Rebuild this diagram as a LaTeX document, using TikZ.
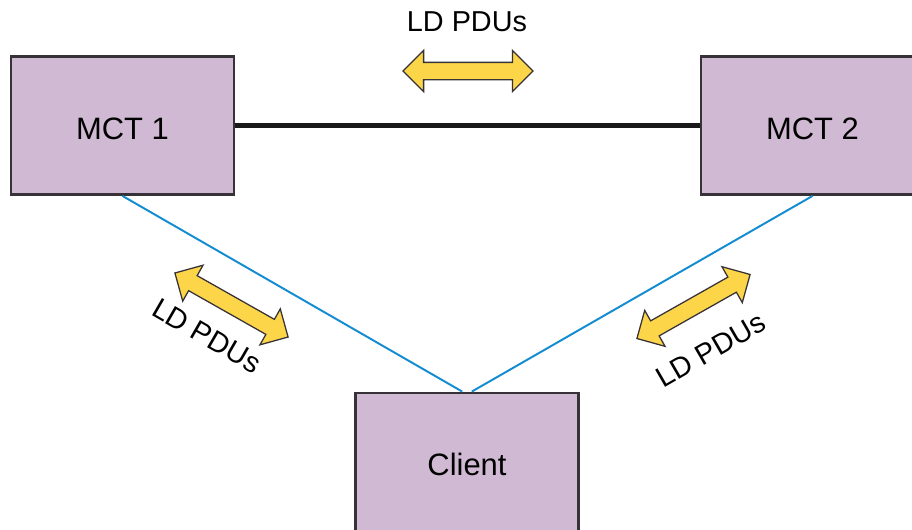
\documentclass[tikz,border=0pt]{standalone}
\usepackage{fontspec}
\setmainfont{Liberation Sans}
\usepackage{tikz}
\usetikzlibrary{positioning,shapes.arrows}

\definecolor{boxfill}{RGB}{208,185,211}
\definecolor{boxline}{RGB}{55,50,55}
\definecolor{linkblue}{RGB}{20,140,210}
\definecolor{pduyellow}{RGB}{252,214,72}

\tikzset{
  device/.style={draw=boxline, line width=2pt, fill=boxfill,
    minimum width=5.575cm, minimum height=3.45cm, inner sep=0pt,
    text height=0.7cm, font=\fontsize{22}{26}\selectfont},
  pdu/.style={double arrow, draw=boxline, line width=0.9pt, fill=pduyellow,
    minimum height=3.25cm, inner xsep=0pt, inner ysep=0.2cm,
    double arrow head extend=0.3cm},
  pdulabel/.style={font=\fontsize{20.5}{24}\selectfont, inner sep=0pt}
}

\begin{document}
\begin{tikzpicture}[x=0.025cm, y=-0.025cm]
\clip (0,0) rectangle (912,529);

% Geraete
\node[device] (mct1) at (122.5,125.5) {MCT 1};
\node[device] (mct2) at (812.5,125.5) {MCT 2};
\node[device] (client) at (467,462) {Client};

% Verbindungen
\draw[line width=4.2pt, black!90] (mct1.east) -- (mct2.west);
\draw[linkblue, line width=1.4pt] (mct1.south) -- ([xshift=-0.12cm]client.north);
\draw[linkblue, line width=1.4pt] (mct2.south) -- ([xshift=0.12cm]client.north);

% LD PDUs oben
\node[pdu] (pduT) at (468,71) {};
\node[pdulabel] (lblT) at (467,22) {LD PDUs};

% LD PDUs links
\node[pdu, rotate=-29.5] (pduL) at (231.5,305) {};
\node[pdulabel, rotate=-30] (lblL) at (207,336) {LD PDUs};

% LD PDUs rechts
\node[pdu, rotate=29.5] (pduR) at (693.5,306.5) {};
\node[pdulabel, rotate=30] (lblR) at (711,350) {LD PDUs};
\end{tikzpicture}
\end{document}
